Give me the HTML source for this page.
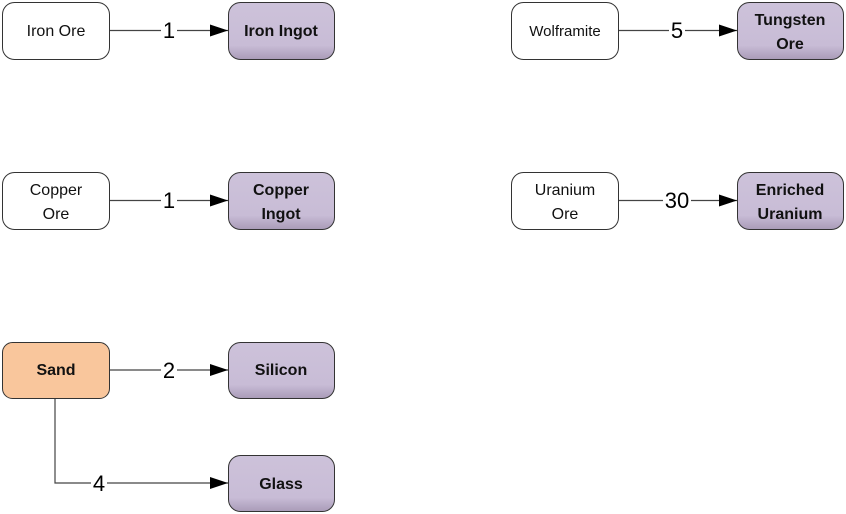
<!DOCTYPE html>
<html><head><style>body{margin:0;background:#fff}svg{display:block}</style></head><body>
<svg width="846" height="514" viewBox="0 0 846 514" xmlns="http://www.w3.org/2000/svg" font-family="Liberation Sans, sans-serif">
<defs>
<linearGradient id="g" x1="0" y1="0" x2="0" y2="1"><stop offset="0" stop-color="#cdc2da"/><stop offset="0.75" stop-color="#c8bcd6"/><stop offset="1" stop-color="#a99bb8"/></linearGradient>
<marker id="a" markerWidth="18" markerHeight="12" refX="18" refY="6" orient="auto" markerUnits="userSpaceOnUse"><path d="M0,0 L18,6 L0,12z" fill="#000"/></marker>
</defs>
<g stroke="#444" stroke-width="1.2" fill="none">
<path d="M109,30.5 H228" marker-end="url(#a)"/>
<path d="M109,200.5 H228" marker-end="url(#a)"/>
<path d="M109,370 H228" marker-end="url(#a)"/>
<path d="M55,398 V483 H228" marker-end="url(#a)"/>
<path d="M618,30.5 H737" marker-end="url(#a)"/>
<path d="M618,200.5 H737" marker-end="url(#a)"/>
</g>
<g font-size="22" text-anchor="middle" fill="#000">
<rect x="161" y="18" width="16" height="26" fill="#fff"/><text x="169" y="38">1</text>
<rect x="161" y="188" width="16" height="26" fill="#fff"/><text x="169" y="208">1</text>
<rect x="161" y="358" width="16" height="26" fill="#fff"/><text x="169" y="378">2</text>
<rect x="91" y="471" width="16" height="26" fill="#fff"/><text x="99" y="491">4</text>
<rect x="669" y="18" width="16" height="26" fill="#fff"/><text x="677" y="38">5</text>
<rect x="663" y="188" width="28" height="26" fill="#fff"/><text x="677" y="208">30</text>
</g>
<g stroke="#333" stroke-width="1">
<rect x="2.5" y="2.5" width="107" height="57" rx="12" fill="#fff"/>
<rect x="2.5" y="172.5" width="107" height="57" rx="12" fill="#fff"/>
<rect x="2.5" y="342.5" width="107" height="56" rx="10" fill="#f9c69c"/>
<rect x="511.5" y="2.5" width="107" height="57" rx="12" fill="#fff"/>
<rect x="511.5" y="172.5" width="107" height="57" rx="12" fill="#fff"/>
<rect x="228.5" y="2.5" width="106" height="57" rx="12" fill="url(#g)"/>
<rect x="228.5" y="172.5" width="106" height="57" rx="12" fill="url(#g)"/>
<rect x="228.5" y="342.5" width="106" height="56" rx="12" fill="url(#g)"/>
<rect x="228.5" y="455.5" width="106" height="56" rx="12" fill="url(#g)"/>
<rect x="737.5" y="2.5" width="106" height="57" rx="12" fill="url(#g)"/>
<rect x="737.5" y="172.5" width="106" height="57" rx="12" fill="url(#g)"/>
</g>
<g font-size="16" text-anchor="middle" fill="#111">
<text x="56" y="36">Iron Ore</text>
<text x="56" y="195">Copper</text><text x="56" y="219">Ore</text>
<text x="565" y="36" font-size="15">Wolframite</text>
<text x="565" y="195">Uranium</text><text x="565" y="219">Ore</text>
</g>
<g font-size="16" font-weight="bold" text-anchor="middle" fill="#111">
<text x="56" y="375">Sand</text>
<text x="281" y="36">Iron Ingot</text>
<text x="281" y="195">Copper</text><text x="281" y="219">Ingot</text>
<text x="281" y="375">Silicon</text>
<text x="281" y="489">Glass</text>
<text x="790" y="25">Tungsten</text><text x="790" y="49">Ore</text>
<text x="790" y="195">Enriched</text><text x="790" y="219">Uranium</text>
</g>
</svg>
</body></html>
